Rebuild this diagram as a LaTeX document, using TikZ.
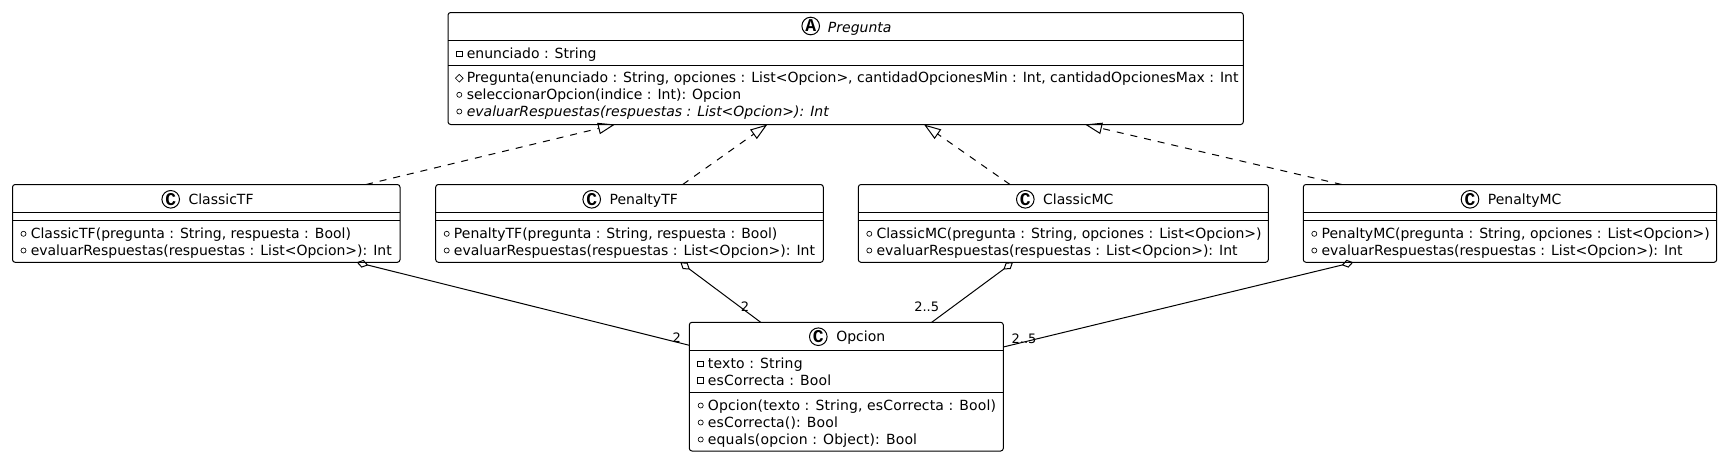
\documentclass[tikz,border=0pt]{standalone}
\usepackage{fontspec}
\usetikzlibrary{arrows.meta,shapes.geometric}
\setmainfont{DejaVu Sans}
\newfontfamily\markfont{Liberation Mono}

\tikzset{
  classbox/.style 2 args={draw, line width=.75pt, rounded corners=2pt, anchor=north west, inner sep=0, outer sep=0, minimum width=#1*.75pt, minimum height=#2*.75pt},
  rowtext/.style={anchor=base west, inner sep=0, font=\fontsize{10.5pt}{12pt}\selectfont},
  titletext/.style={rowtext},
  classmark/.style={draw, circle, line width=.75pt, inner sep=0, minimum size=13.2pt, font=\markfont\bfseries\fontsize{13.5pt}{13.5pt}\selectfont},
  pub/.style={draw, circle, line width=.5pt, inner sep=0, minimum size=3.8pt},
  priv/.style={draw, rectangle, line width=.5pt, inner sep=0, minimum size=4.4pt},
  prot/.style={draw, diamond, line width=.5pt, inner sep=0, minimum size=6pt},
  depline/.style={line width=.75pt, dash pattern=on 5.25pt off 5.25pt, -{Triangle[open, length=12.75pt, width=8.6pt]}},
  aggline/.style={line width=.75pt, -{Diamond[open, length=9pt, width=6pt]}},
  mult/.style={anchor=base, inner sep=0, font=\fontsize{9.75pt}{11pt}\selectfont},
}

\begin{document}
\begin{tikzpicture}[x=.75pt, y=-.75pt]
\useasboundingbox (0,0) rectangle (1722,457);

%abstract class
\node[classbox={795.3}{112}] (pregunta) at (448,12.5) {};
\draw[line width=.75pt] ([shift={(0,28)}]pregunta.north west) -- ([shift={(0,28)}]pregunta.north east);
\draw[line width=.75pt] ([shift={(0,53)}]pregunta.north west) -- ([shift={(0,53)}]pregunta.north east);
\node[classmark] (preguntamark) at (810.7,26) {A};
\node[titletext] (preguntatitle) at (827.7,32.3) {\itshape Pregunta};
\node[priv] (preguntaicon1) at (459.3,53.8) {};
\node[rowtext] (preguntarow1) at (466.5,58.3) {enunciado : String};
\node[prot] (preguntaicon2) at (459.3,78.2) {};
\node[rowtext] (preguntarow2) at (466.5,82.7) {Pregunta(enunciado : String, opciones : List<Opcion>, cantidadOpcionesMin : Int, cantidadOpcionesMax : Int};
\node[pub] (preguntaicon3) at (459.3,94.8) {};
\node[rowtext] (preguntarow3) at (466.5,99.3) {seleccionarOpcion(indice : Int): Opcion};
\node[pub] (preguntaicon4) at (459.3,111.5) {};
\node[rowtext] (preguntarow4) at (466.5,116) {\itshape evaluarRespuestas(respuestas : List<Opcion>): Int};

%subclasses
\foreach \name/\x/\w/\mx/\title/\sig in {
  classictf/12.5/387.5/170.7/ClassicTF/{ClassicTF(pregunta : String, respuesta : Bool)},
  penaltytf/435.7/387.6/591.7/PenaltyTF/{PenaltyTF(pregunta : String, respuesta : Bool)},
  classicmc/858.3/410/1025.3/ClassicMC/{ClassicMC(pregunta : String, opciones : List<Opcion>)},
  penaltymc/1303.3/413.4/1470/PenaltyMC/{PenaltyMC(pregunta : String, opciones : List<Opcion>)}} {
  \node[classbox={\w}{77.8}] (\name) at (\x,184.5) {};
  \draw[line width=.75pt] ([shift={(0,27.8)}]\name.north west) -- ([shift={(0,27.8)}]\name.north east);
  \draw[line width=.75pt] ([shift={(0,35.8)}]\name.north west) -- ([shift={(0,35.8)}]\name.north east);
  \node[classmark] (\name mark) at (\mx,199.3) {C};
  \node[titletext] (\name title) at (\mx+17.6,204) {\title};
  \node[pub] (\name icon1) at (\x+11,233.8) {};
  \node[rowtext] (\name row1) at (\x+18,238.3) {\sig};
  \node[pub] (\name icon2) at (\x+11,250.5) {};
  \node[rowtext] (\name row2) at (\x+18,255) {evaluarRespuestas(respuestas : List<Opcion>): Int};
}

%opcion
\node[classbox={314}{128.7}] (opcion) at (689.3,322.3) {};
\draw[line width=.75pt] ([shift={(0,27.7)}]opcion.north west) -- ([shift={(0,27.7)}]opcion.north east);
\draw[line width=.75pt] ([shift={(0,70)}]opcion.north west) -- ([shift={(0,70)}]opcion.north east);
\node[classmark] (opcionmark) at (818.3,336.7) {C};
\node[titletext] (opciontitle) at (836,341.7) {Opcion};
\foreach \i/\y/\kind/\txt in {
  1/368.3/priv/{texto : String},
  2/385/priv/{esCorrecta : Bool},
  3/410/pub/{Opcion(texto : String, esCorrecta : Bool)},
  4/427/pub/{esCorrecta(): Bool},
  5/444/pub/{equals(opcion : Object): Bool}} {
  \node[\kind] (opcionicon\i) at (700.7,\y-4.5) {};
  \node[rowtext] (opcionrow\i) at (707.7,\y) {\addfontfeature{LetterSpace=1}\txt};
}

%realization
\draw[depline] ([shift={(353.5,0)}]classictf.north west) -- ([shift={(167,0)}]pregunta.south west);
\draw[depline] ([shift={(247,0)}]penaltytf.north west) -- ([shift={(319.3,0)}]pregunta.south west);
\draw[depline] ([shift={(151.7,0)}]classicmc.north west) -- ([shift={(476,0)}]pregunta.south west);
\draw[depline] ([shift={(38.4,0)}]penaltymc.north west) -- ([shift={(637,0)}]pregunta.south west);

%aggregation
\draw[aggline] ([shift={(0,23)}]opcion.north west) -- ([shift={(344.2,0)}]classictf.south west);
\draw[aggline] ([shift={(71.4,0)}]opcion.north west) -- ([shift={(244.6,0)}]penaltytf.south west);
\draw[aggline] ([shift={(242.4,0)}]opcion.north west) -- ([shift={(154.7,0)}]classicmc.south west);
\draw[aggline] ([shift={(0,24.7)}]opcion.north east) -- ([shift={(50,0)}]penaltymc.south west);

\node[mult] (mult1) at (676.7,342.2) {2};
\node[mult] (mult2) at (745,311.4) {2};
\node[mult] (mult3) at (926.7,311.4) {2..5};
\node[mult] (mult4) at (1024,343) {2..5};

\end{tikzpicture}
\end{document}
